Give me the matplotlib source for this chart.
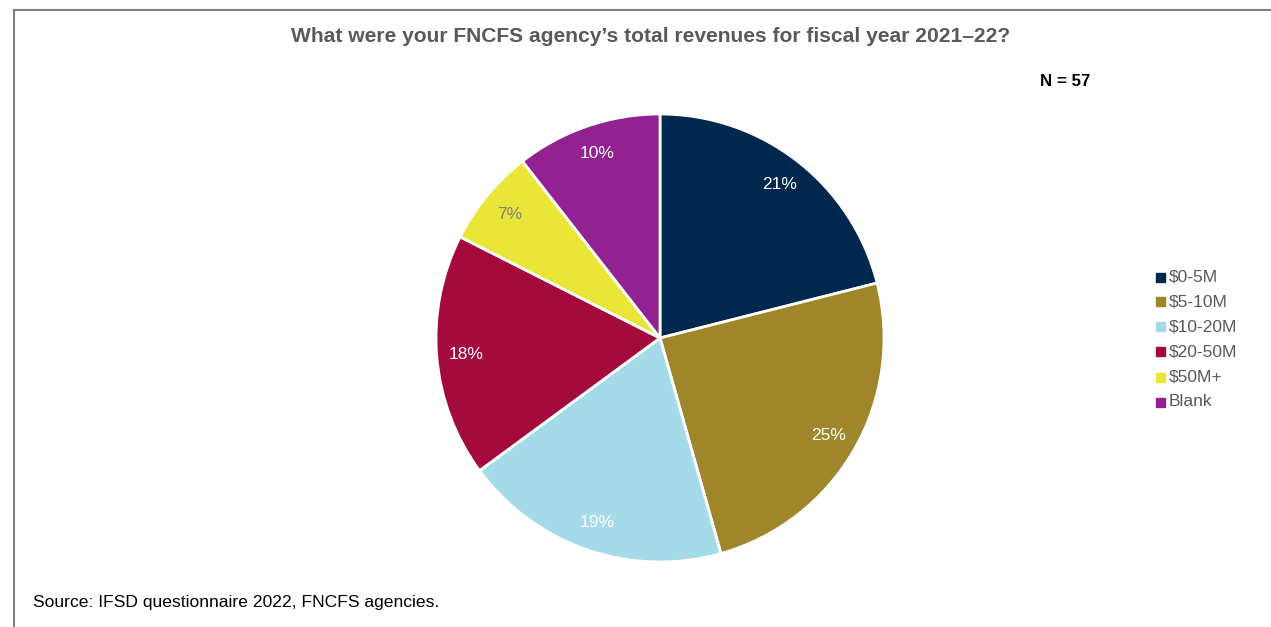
import matplotlib

matplotlib.use("Agg")
import matplotlib.pyplot as plt
from matplotlib.lines import Line2D

plt.rcParams["font.family"] = ["Liberation Sans", "DejaVu Sans"]

categories = ["$0-5M", "$5-10M", "$10-20M", "$20-50M", "$50M+", "Blank"]
counts = [12, 14, 11, 10, 4, 6]           # N = 57 agencies
pct_labels = [21, 25, 19, 18, 7, 10]      # as printed on the chart
colors = ["#00284f", "#a0862a", "#a5dbe8", "#a50a3c", "#eae637", "#922291"]
label_colors = ["white", "white", "white", "white", "#7f7f7f", "white"]

title = "What were your FNCFS agency\u2019s total revenues for fiscal year 2021\u201322?"
n_text = "N = 57"
source = "Source: IFSD questionnaire 2022, FNCFS agencies."

W, H = 1271, 627
fig = plt.figure(figsize=(W / 100, H / 100), dpi=100)
fig.patch.set_facecolor("white")

# pie centred near (660, 338) px, radius ~224 px
cx, cy, r = 660, 338, 224
ax = fig.add_axes([(cx - r) / W, 1 - (cy + r) / H, 2 * r / W, 2 * r / H])
wedges, texts = ax.pie(
    counts,
    colors=colors,
    startangle=90,
    counterclock=False,
    labels=[f"{p}%" for p in pct_labels],
    labeldistance=0.87,
    wedgeprops=dict(edgecolor="white", linewidth=2),
    textprops=dict(fontsize=12.5),
)
for t, c in zip(texts, label_colors):
    t.set_color(c)
    t.set_ha("center")
    t.set_va("center")
ax.set_aspect("equal")
ax.set_xlim(-1, 1)
ax.set_ylim(-1, 1)
ax.axis("off")

fig.text(651 / W, 1 - 37 / H, title, ha="center", va="center",
         fontsize=15.1, fontweight="bold", color="#595959")
fig.text(1065 / W, 1 - 82 / H, n_text, ha="center", va="center",
         fontsize=12.2, fontweight="bold", color="black")
fig.text(33 / W, 1 - 603 / H, source, ha="left", va="center",
         fontsize=12.6, color="black")

# legend
for i, (cat, col) in enumerate(zip(categories, colors)):
    y = 1 - (277 + 25 * i) / H
    fig.patches.append(plt.Rectangle((1156 / W, y - 4.5 / H), 9 / W, 9 / H,
                                     transform=fig.transFigure, color=col))
    fig.text(1169 / W, y, cat, ha="left", va="center", fontsize=12.5, color="#595959")

# frame lines (left and top)
fig.add_artist(Line2D([14 / W, 14 / W], [0, 1 - 10 / H], color="#7f7f7f", linewidth=1.5))
fig.add_artist(Line2D([14 / W, 1], [1 - 10 / H, 1 - 10 / H], color="#7f7f7f", linewidth=1.5))

fig.savefig("out.png", dpi=100, facecolor="white")
